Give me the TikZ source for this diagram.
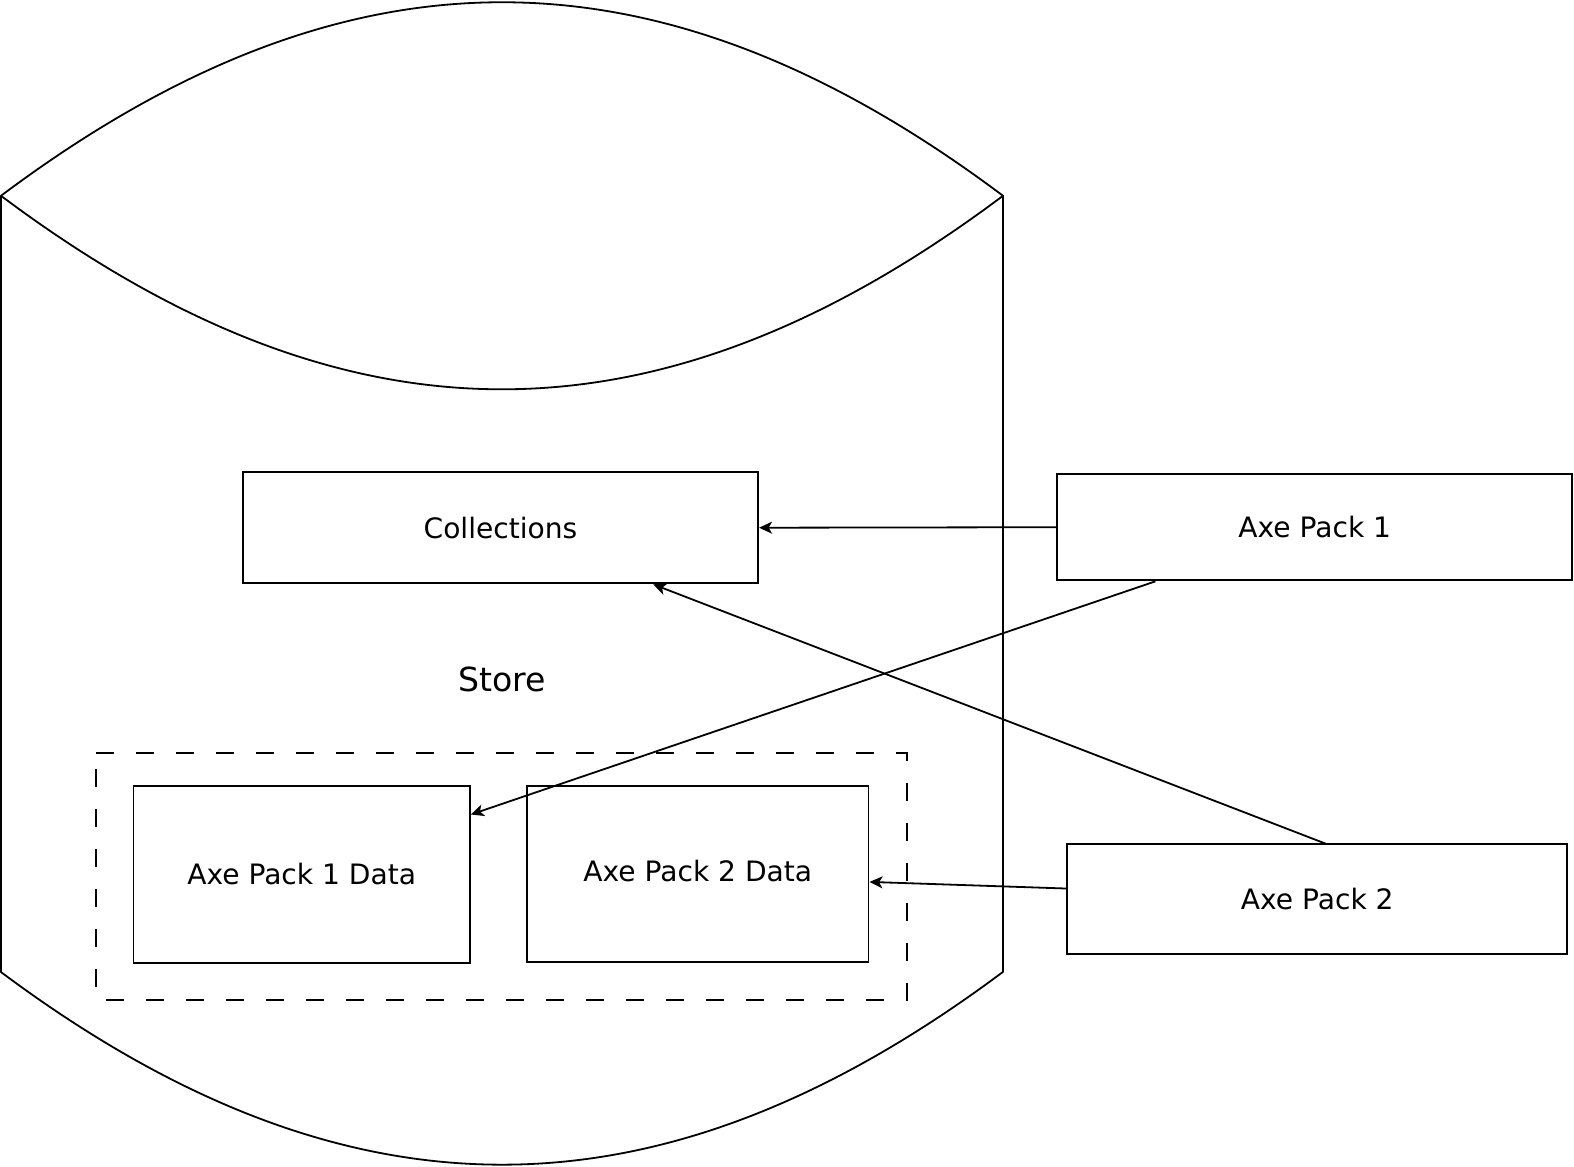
\documentclass[tikz,border=0pt]{standalone}
\usepackage{fontspec}
\setmainfont{DejaVu Sans}
\usetikzlibrary{arrows.meta,positioning}
\tikzset{
  line/.style={line width=1.8bp, black},
  box/.style={draw, line width=1.8bp, rectangle, inner sep=0pt, font=\fontsize{28.1}{34}\selectfont},
  conn/.style={line width=1.8bp, -{Stealth[length=13bp,width=12bp,inset=3.5bp]}},
  grp/.style={draw, line width=1.8bp, dash pattern=on 18bp off 22bp},
}
\begin{document}
\begin{tikzpicture}[x=1bp,y=-1bp,scale=1.004,transform shape]
\useasboundingbox (0,0) rectangle (1567.73,1162.35);
% cylinder
\draw[line, line join=round] (1,968) -- (1,195) .. controls (344,-62) and (656,-62) .. (999,195) -- (999,968) .. controls (656,1224) and (344,1224) .. cycle;
\draw[line] (1,195) .. controls (344,452) and (656,452) .. (999,195);
\node[font=\fontsize{33.1}{40}\selectfont] (store) at (500,677) {Store};
% group
\draw[grp] (96,750) -- (903,750) -- (903,996) -- (96,996) -- cycle;
% boxes
\node[box, minimum width=513bp, minimum height=111bp] (coll) at (498.5,525.5) {Collections};
\node[box, minimum width=513bp, minimum height=106bp] (ap1) at (1309.5,525) {Axe Pack 1};
\node[box, minimum width=498bp, minimum height=109bp] (ap2) at (1312,895.5) {Axe Pack 2};
\node[box, minimum width=335bp, minimum height=176bp] (d1) at (300.5,871) {Axe Pack 1 Data};
\node[box, minimum width=340bp, minimum height=175bp, text depth=6bp] (d2) at (695,870.5) {Axe Pack 2 Data};
% connectors
\draw[conn] (ap1.west) -- (coll.east);
\draw[conn] ([xshift=-159bp]ap1.south) -- ([yshift=-29bp]d1.north east);
\draw[conn] ([xshift=8bp]ap2.north) -- ([xshift=152bp]coll.south);
\draw[conn] ([yshift=10.7bp]ap2.west) -- ([yshift=-7.7bp]d2.east);
\end{tikzpicture}
\end{document}
